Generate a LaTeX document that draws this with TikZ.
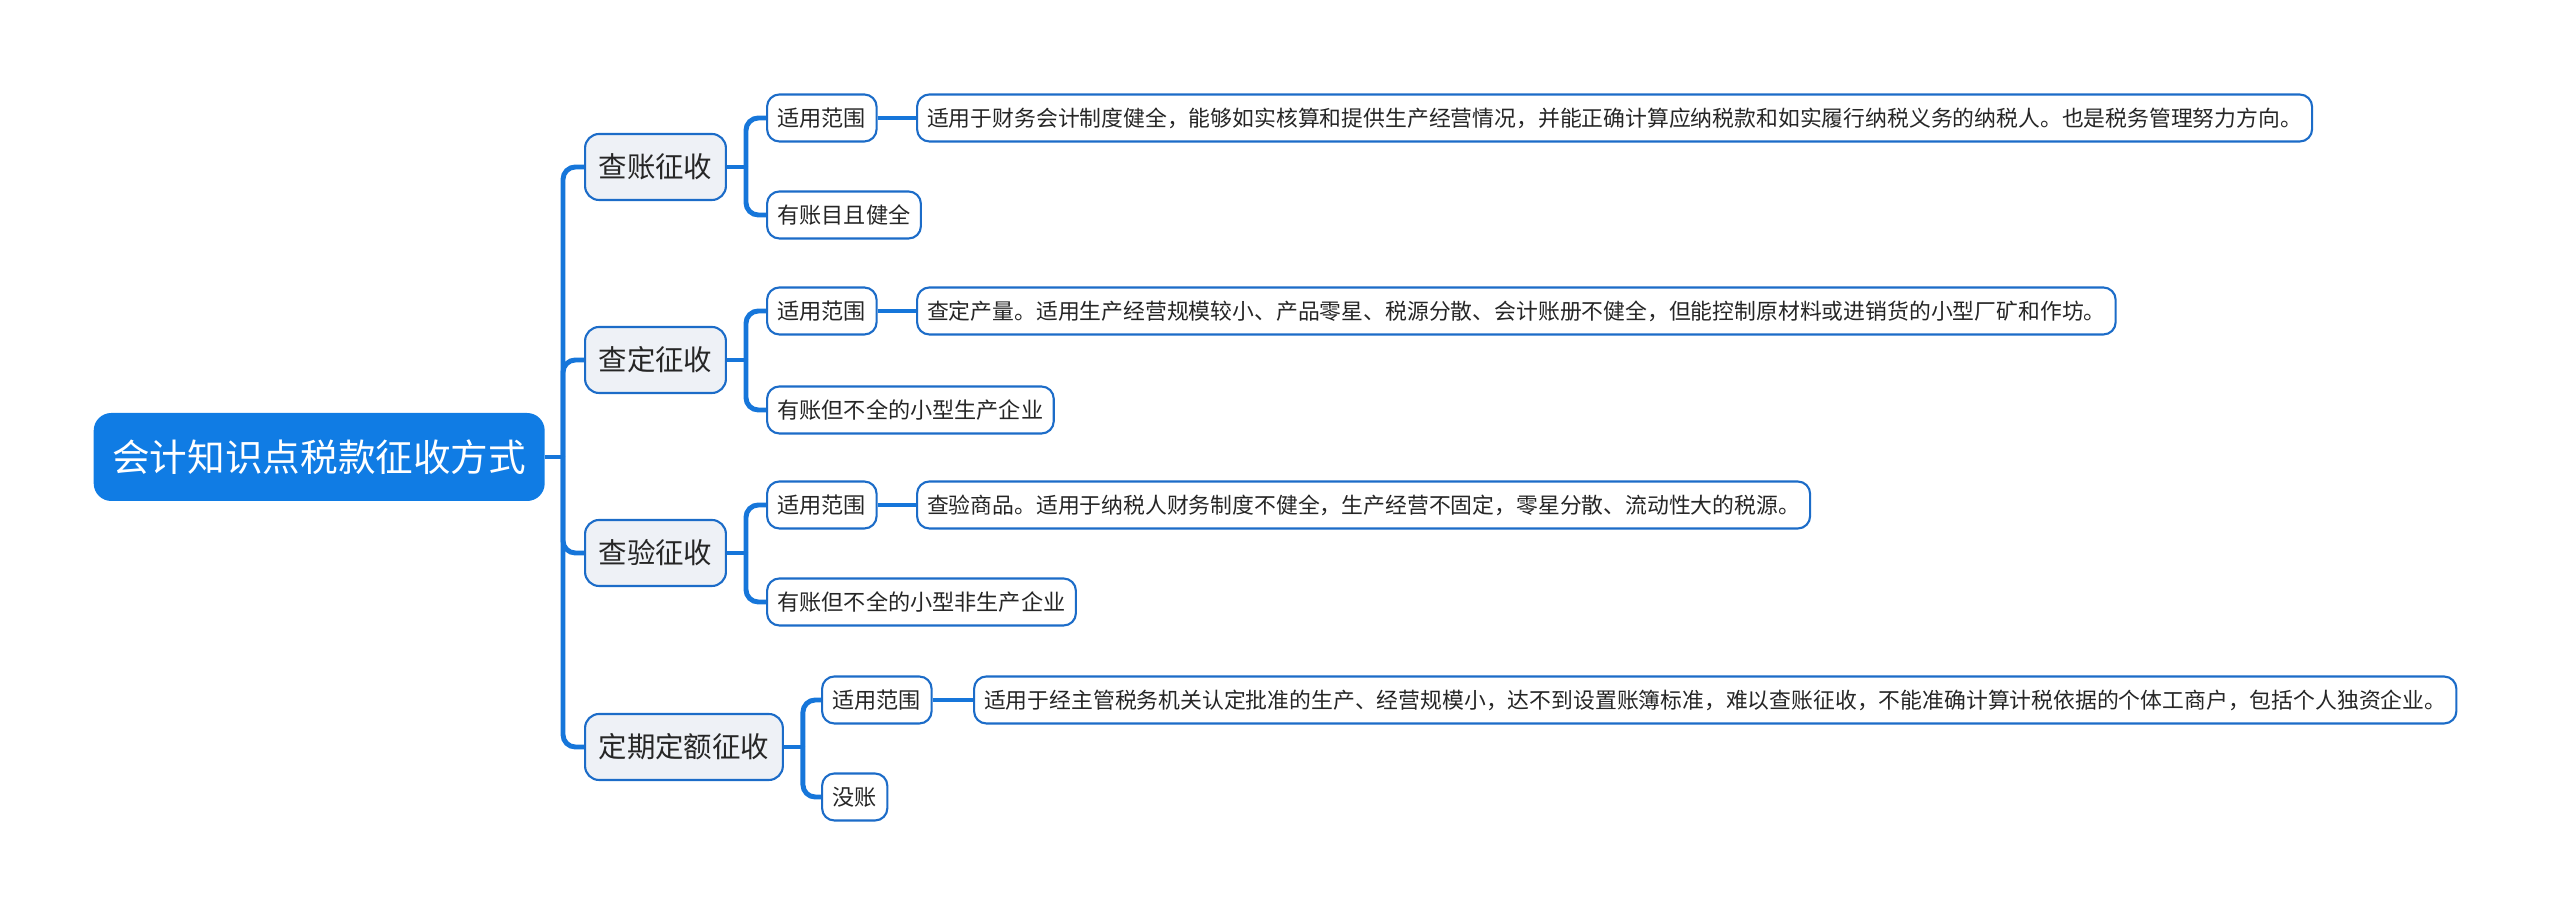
\documentclass[tikz,border=0pt]{standalone}
\usepackage{fontspec}
\setmainfont{Noto Sans CJK SC}
\usepackage{tikz}
\usetikzlibrary{positioning,calc}
\definecolor{mapblue}{RGB}{16,124,228}
\definecolor{linkblue}{RGB}{22,118,218}
\definecolor{edgeblue}{RGB}{28,108,200}
\definecolor{topicgray}{RGB}{238,241,246}
\definecolor{inkgray}{RGB}{38,38,38}

\begin{document}
\begin{tikzpicture}[
  every node/.style={inner ysep=0pt, text=inkgray, anchor=west},
  rootbox/.style={fill=mapblue, rounded corners=5pt, text=white,
                  font=\fontsize{10.7}{12}\selectfont,
                  minimum width=4.51cm, minimum height=0.88cm},
  topic/.style={draw=edgeblue, line width=0.6pt, fill=topicgray,
                rounded corners=4pt, font=\fontsize{8.1}{10}\selectfont,
                inner xsep=0.135cm, minimum height=0.66cm},
  sub/.style={draw=edgeblue, line width=0.6pt, fill=white,
              rounded corners=3.5pt, font=\fontsize{6.3}{8}\selectfont,
              inner xsep=0.105cm, minimum height=0.47cm},
  note/.style={sub, inner xsep=0.1cm, font=\fontsize{6.21}{8}\selectfont},
  link/.style={draw=linkblue, line width=1.4pt, rounded corners=3.5pt},
]
\useasboundingbox (0,0) rectangle (25.6,-9.16);

%% ── Central topic ──────────────────────────────────────────────────────────
\node[rootbox] (root) at (0.93,-4.57) {会计知识点税款征收方式};
\coordinate (trunk) at (5.63,-4.57);

%% ── Main branches ──────────────────────────────────────────────────────────
\node[topic] (zhang)  at (5.84,-1.67) {查账征收};
\node[topic] (ding)   at (5.84,-3.60) {查定征收};
\node[topic] (yan)    at (5.84,-5.53) {查验征收};
\node[topic] (dinge)  at (5.84,-7.47) {定期定额征收};

%% ── Sub topics ─────────────────────────────────────────────────────────────
\node[sub] (zhangA) at (7.66,-1.18) {适用范围};
\node[sub] (zhangB) at (7.66,-2.15) {有账目且健全};
\node[sub] (dingA)  at (7.66,-3.11) {适用范围};
\node[sub] (dingB)  at (7.66,-4.10) {有账但不全的小型生产企业};
\node[sub] (yanA)   at (7.66,-5.05) {适用范围};
\node[sub] (yanB)   at (7.66,-6.02) {有账但不全的小型非生产企业};
\node[sub] (dingeA) at (8.21,-7.00) {适用范围};
\node[sub] (dingeB) at (8.21,-7.97) {没账};

%% ── Details ────────────────────────────────────────────────────────────────
\node[note] (zhangN) at (9.16,-1.18) {适用于财务会计制度健全，能够如实核算和提供生产经营情况，并能正确计算应纳税款和如实履行纳税义务的纳税人。也是税务管理努力方向。};
\node[note] (dingN)  at (9.16,-3.11) {查定产量。适用生产经营规模较小、产品零星、税源分散、会计账册不健全，但能控制原材料或进销货的小型厂矿和作坊。};
\node[note] (yanN)   at (9.16,-5.05) {查验商品。适用于纳税人财务制度不健全，生产经营不固定，零星分散、流动性大的税源。};
\node[note] (dingeN) at (9.73,-7.00) {适用于经主管税务机关认定批准的生产、经营规模小，达不到设置账簿标准，难以查账征收，不能准确计算计税依据的个体工商户，包括个人独资企业。};

%% ── Connectors ─────────────────────────────────────────────────────────────
\draw[link] (root.east) -- (trunk);
\foreach \t in {zhang,ding,yan,dinge}
  \draw[link] (trunk) |- (\t.west);

\foreach \t in {zhang,ding,yan,dinge} {
  \coordinate (\t J) at ($(\t.east)+(0.19,0)$);
  \draw[link] (\t.east) -- (\t J);
  \draw[link] (\t J) |- (\t A.west);
  \draw[link] (\t J) |- (\t B.west);
  \draw[link] (\t A.east) -- (\t N.west);
}

\end{tikzpicture}
\end{document}
